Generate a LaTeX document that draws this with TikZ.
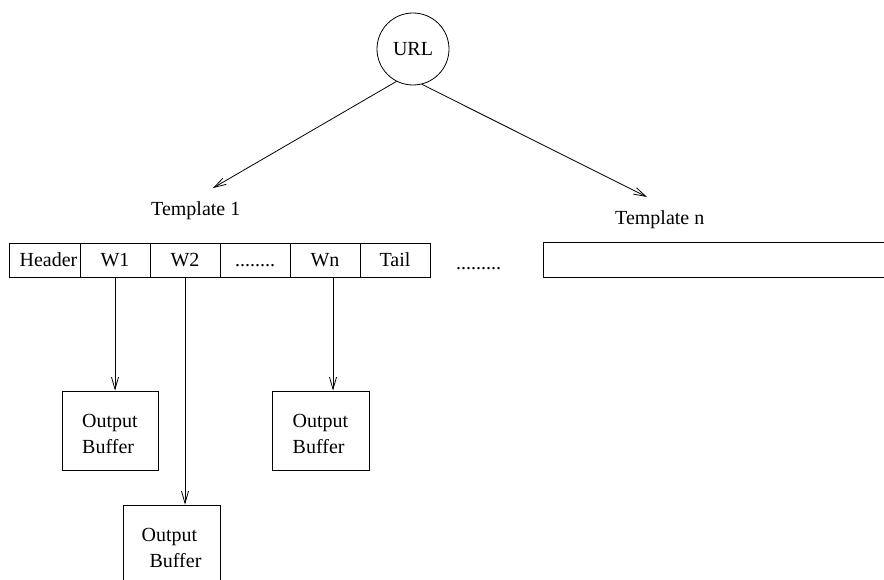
\documentclass[tikz,border=0pt]{standalone}
\usepackage{fontspec}
\setmainfont{Liberation Serif}
\usetikzlibrary{arrows.meta}
\begin{document}
\begin{tikzpicture}[x=1pt,y=-1pt,
  every node/.style={font=\fontsize{20}{26}\selectfont},
  thin line/.style={line width=0.8pt},
  cell/.style={draw,thin line,inner sep=0pt,minimum width=70pt,minimum height=34pt,
               text height=13.5pt,text depth=0pt},
  buffer/.style={draw,thin line,inner sep=0pt,minimum width=96pt,minimum height=79pt,
                 align=left,text height=45pt,text depth=0pt},
  arr/.style={thin line,-{Straight Barb[length=12pt,width=7pt]}}]
  \clip (0,0) rectangle (884,580);
  \fill[white] (0,0) rectangle (884,580);

  % request and its templates
  \node[draw,thin line,circle,minimum size=72pt,inner sep=0pt] (url) at (413,49) {URL};
  \coordinate (t1tip) at (213,188);
  \coordinate (tntip) at (647,197);
  \node[anchor=base west,inner sep=0pt] (t1label) at (151,216) {Template 1};
  \node[anchor=base west,inner sep=0pt] (tnlabel) at (615,225) {Template n};
  \draw[arr] (url.243) -- (t1tip);
  \draw[arr] (url.284) -- (tntip);

  % template 1 split into its parts
  \node[cell,minimum width=71pt] (hdr) at (44.5,260) {\hspace*{8pt}Header};
  \node[cell] (w1)   at (115,260) {W1};
  \node[cell] (w2)   at (185,260) {W2};
  \node[cell] (wdot) at (255,260) {........};
  \node[cell] (wn)   at (325,260) {Wn};
  \node[cell] (tail) at (395,260) {Tail};
  \node[anchor=base west,inner sep=0pt] (gap) at (456,270) {.........};

  % template n, running off to the right
  \node[inner sep=0pt,minimum width=340pt,minimum height=34pt] (tn) at (714,260) {};
  \draw[thin line] (tn.north east) -- (tn.north west) -- (tn.south west) -- (tn.south east);

  % output buffers
  \node[buffer] (ob1) at (110,430.5) {Output\\Buffer};
  \node[buffer,minimum width=97pt] (ob2) at (320.5,430.5) {Output\\Buffer};
  \node[buffer,minimum width=97pt] (ob3) at (171.5,544.5) {Output\\\hspace*{8pt}Buffer};

  \draw[arr] (w1.south) -- (w1.south |- ob1.north);
  \draw[arr] (w2.south) -- (w2.south |- ob3.north);
  \draw[arr] ([xshift=8pt]wn.south) -- ([xshift=8pt]wn.south |- ob2.north);
\end{tikzpicture}
\end{document}
